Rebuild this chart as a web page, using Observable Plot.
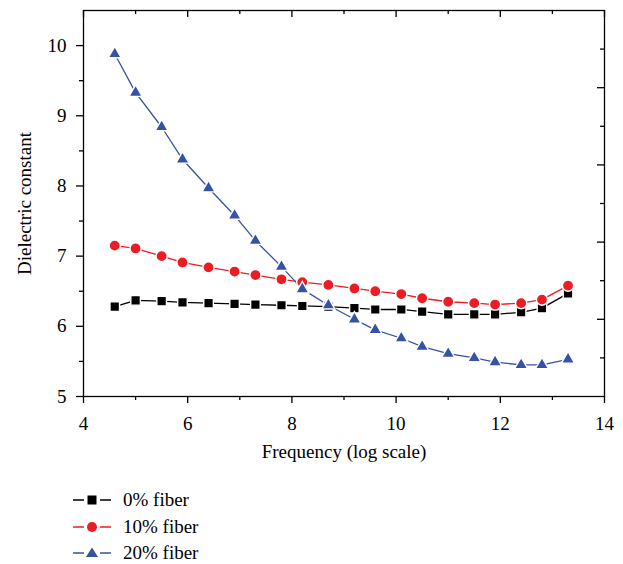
<!DOCTYPE html>
<html>
<head>
<meta charset="utf-8">
<script src="https://cdn.jsdelivr.net/npm/d3@7"></script>
<script src="https://cdn.jsdelivr.net/npm/@observablehq/plot@0.6"></script>
<style>
  html, body { margin: 0; padding: 0; background: #fff; }
  #chart { width: 623px; height: 564px; position: relative; font-family: "Liberation Serif", serif; }
  .legend { position: absolute; left: 72px; top: 487px; }
  .row { display: flex; align-items: center; height: 26.5px; font-size: 19px; color: #000; }
  .row svg { width: 40px; height: 20px; margin-right: 11px; }
</style>
</head>
<body>
<div id="chart"></div>
<script>
// Frequency (log scale) positions
const freqLog = [4.6, 5.0, 5.5, 5.9, 6.4, 6.9, 7.3, 7.8, 8.2, 8.7, 9.2, 9.6, 10.1, 10.5, 11.0, 11.5, 11.9, 12.4, 12.8, 13.3];
// Dielectric constant series
const fiber0  = [6.28, 6.37, 6.36, 6.34, 6.33, 6.32, 6.31, 6.30, 6.29, 6.28, 6.26, 6.24, 6.24, 6.21, 6.17, 6.17, 6.17, 6.20, 6.26, 6.47];
const fiber10 = [7.15, 7.11, 7.00, 6.91, 6.84, 6.78, 6.73, 6.67, 6.63, 6.59, 6.54, 6.50, 6.46, 6.40, 6.35, 6.33, 6.31, 6.33, 6.38, 6.58];
const fiber20 = [9.88, 9.33, 8.84, 8.38, 7.97, 7.58, 7.22, 6.85, 6.53, 6.30, 6.10, 5.95, 5.83, 5.71, 5.61, 5.55, 5.49, 5.45, 5.45, 5.53];
const seriesNames = ["0% fiber", "10% fiber", "20% fiber"];
const seriesColors = ["#000000", "#ec1c24", "#3552a4"];
const seriesSymbols = ["square", "circle", "triangle"];
const seriesR = [5.4, 5.6, 4.9];

// Tick values
const xMajor = [4, 6, 8, 10, 12, 14];
const xMinor = [5, 7, 9, 11, 13];
const yMajor = [5, 6, 7, 8, 9, 10];
const yMinor = [5.5, 6.5, 7.5, 8.5, 9.5];
const rightMajor = [6.1, 7.2, 8.3, 9.4];
const rightMinor = [5.55, 6.65, 7.75, 8.85, 9.95];
const xLabel = "Frequency (log scale)";
const yLabel = "Dielectric constant";

const allSeries = [fiber0, fiber10, fiber20];
const rows = [];
allSeries.forEach((vals, s) => vals.forEach((v, i) => rows.push({x: freqLog[i], y: v, s})));

const W = 623, H = 470;
const mL = 83, mR = 19, mT = 10, mB = 74;
const frameW = W - mL - mR, frameH = H - mT - mB;

const marks = [];
allSeries.forEach((vals, s) => {
  const d = rows.filter(r => r.s === s);
  marks.push(Plot.line(d, {x: "x", y: "y", stroke: seriesColors[s], strokeWidth: 1.3}));
});
allSeries.forEach((vals, s) => {
  const d = rows.filter(r => r.s === s);
  marks.push(Plot.dot(d, {x: "x", y: "y", symbol: seriesSymbols[s], r: seriesR[s], fill: seriesColors[s], stroke: "white", strokeWidth: 1.4}));
});

const plot = Plot.plot({
  width: W, height: H,
  marginLeft: mL, marginRight: mR, marginTop: mT, marginBottom: mB,
  style: {fontFamily: "Liberation Serif, serif", fontSize: "18px", color: "#000", background: "white"},
  x: {domain: [4, 14], label: null},
  y: {domain: [5, 10.5], label: null},
  marks: [
    // bottom axis
    Plot.axisX({ticks: xMajor, tickSize: 7, tickPadding: 13, tickFormat: d => String(d), fontSize: 19, strokeWidth: 1.3, label: null}),
    Plot.axisX({ticks: xMinor, tickSize: 4, tickFormat: () => "", strokeWidth: 1.3, label: null}),
    // left axis
    Plot.axisY({ticks: yMajor, tickSize: 7, tickPadding: 10, tickFormat: d => String(d), fontSize: 19, strokeWidth: 1.3, label: null}),
    Plot.axisY({ticks: yMinor, tickSize: 4, tickFormat: () => "", strokeWidth: 1.3, label: null}),
    // top inward ticks
    Plot.tickX(xMajor, {x: d => d, insetBottom: frameH - 7, stroke: "black", strokeWidth: 1.3}),
    Plot.tickX(xMinor, {x: d => d, insetBottom: frameH - 4, stroke: "black", strokeWidth: 1.3}),
    // right inward ticks
    Plot.tickY(rightMajor, {y: d => d, insetLeft: frameW - 7, stroke: "black", strokeWidth: 1.3}),
    Plot.tickY(rightMinor, {y: d => d, insetLeft: frameW - 4, stroke: "black", strokeWidth: 1.3}),
    Plot.frame({stroke: "black", strokeWidth: 1.3}),
    ...marks,
    Plot.text([xLabel], {frameAnchor: "bottom", dy: 61, text: d => d, fontSize: 19, fill: "black"}),
    Plot.text([yLabel], {frameAnchor: "left", dx: -59, rotate: -90, textAnchor: "middle", text: d => d, fontSize: 19, fill: "black"})
  ]
});

const chart = document.getElementById("chart");
chart.appendChild(plot);

// Legend
const legend = document.createElement("div");
legend.className = "legend";
seriesNames.forEach((name, s) => {
  const row = document.createElement("div");
  row.className = "row";
  const c = seriesColors[s];
  let marker;
  if (s === 0) marker = `<rect x="15.5" y="5.5" width="9" height="9" fill="${c}"/>`;
  else if (s === 1) marker = `<circle cx="20" cy="10" r="5" fill="${c}"/>`;
  else marker = `<path d="M20,4.5 L26,14 L14,14 Z" fill="${c}"/>`;
  row.innerHTML = `<svg viewBox="0 0 40 20"><line x1="1" y1="10" x2="39" y2="10" stroke="${c}" stroke-width="1.4"/>` +
    `<rect x="12" y="3" width="16" height="14" fill="white"/>${marker}</svg><span>${name}</span>`;
  legend.appendChild(row);
});
chart.appendChild(legend);
</script>
</body>
</html>
